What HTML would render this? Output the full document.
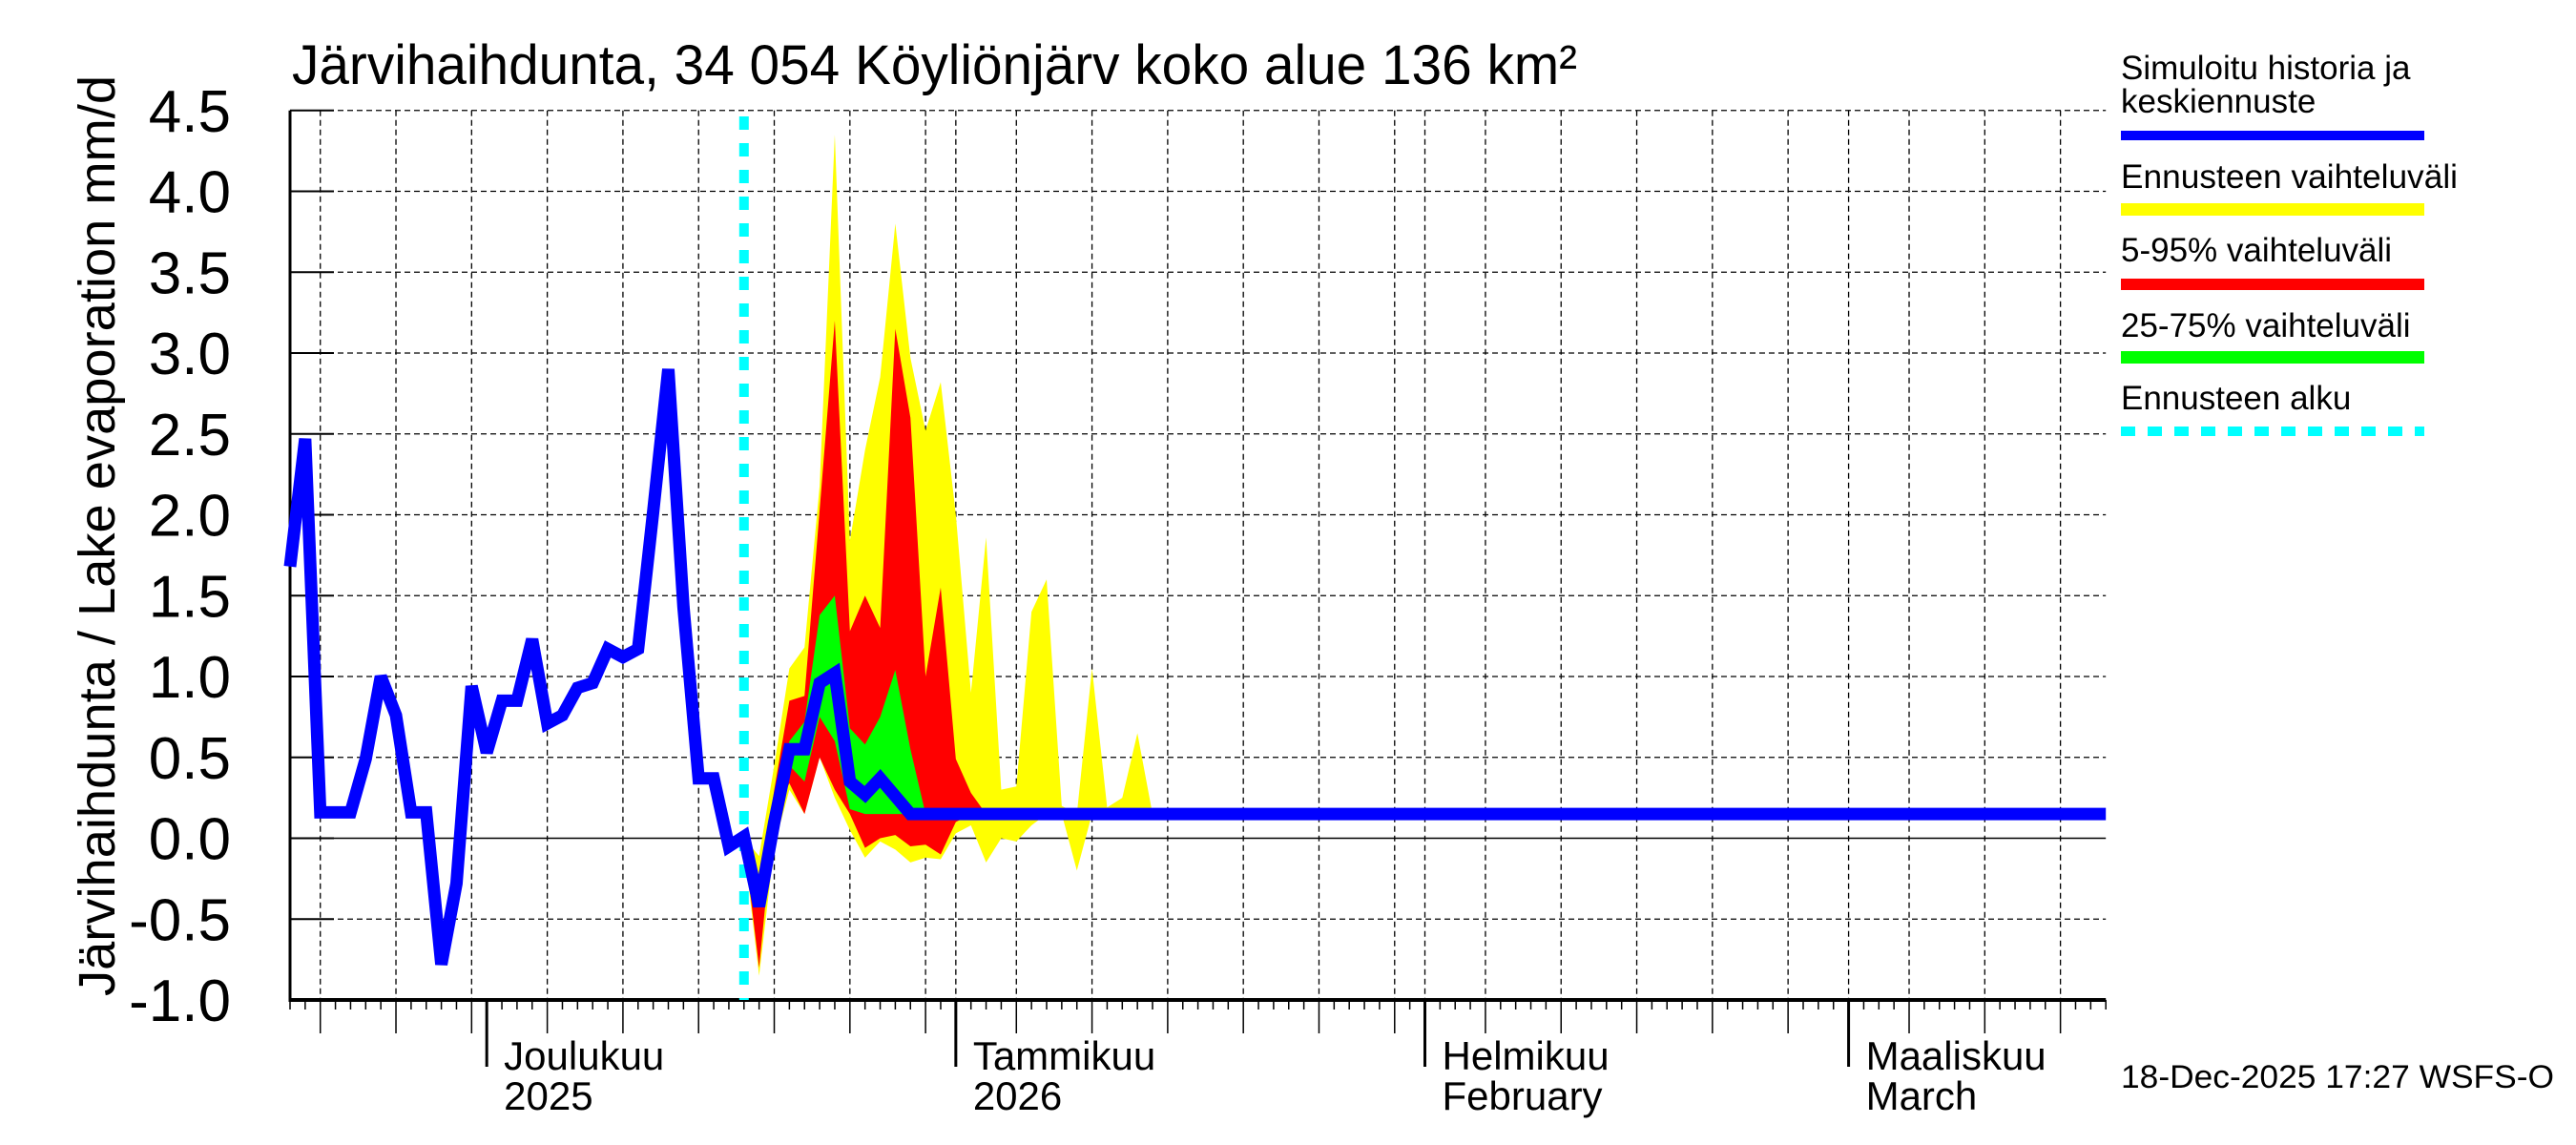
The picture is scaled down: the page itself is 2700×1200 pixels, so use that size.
<!DOCTYPE html>
<html><head><meta charset="utf-8"><style>
html,body{margin:0;padding:0;background:#fff;}
svg{display:block;font-family:"Liberation Sans",sans-serif;}
</style></head><body>
<svg id="chart" width="2700" height="1200" viewBox="0 0 2700 1200" xmlns="http://www.w3.org/2000/svg">
<text x="306" y="88" font-size="58" textLength="1347" lengthAdjust="spacingAndGlyphs">Järvihaihdunta, 34 054 Köyliönjärv koko alue 136 km²</text>
<text transform="translate(120,1044) rotate(-90)" font-size="54" textLength="965" lengthAdjust="spacingAndGlyphs">Järvihaihdunta / Lake evaporation   mm/d</text>
<g id="grid"></g>
<g id="bands"></g>
<g id="axes"></g>
<g id="legend">
<text x="2223" y="83" font-size="35">Simuloitu historia ja</text>
<text x="2223" y="118" font-size="35">keskiennuste</text>
<rect x="2223" y="137" width="318" height="10" fill="#0000ff"/>
<text x="2223" y="197" font-size="35" textLength="353" lengthAdjust="spacingAndGlyphs">Ennusteen vaihteluväli</text>
<rect x="2223" y="213" width="318" height="13" fill="#ffff00"/>
<text x="2223" y="274" font-size="35">5-95% vaihteluväli</text>
<rect x="2223" y="292" width="318" height="12" fill="#ff0000"/>
<text x="2223" y="353" font-size="35">25-75% vaihteluväli</text>
<rect x="2223" y="368" width="318" height="13" fill="#00ff00"/>
<text x="2223" y="429" font-size="35">Ennusteen alku</text>
<line x1="2223" y1="452" x2="2541" y2="452" stroke="#00ffff" stroke-width="10" stroke-dasharray="15,13"/>
</g>
<text x="2223" y="1140" font-size="34" textLength="454" lengthAdjust="spacingAndGlyphs">18-Dec-2025 17:27 WSFS-O</text>
</svg>
<script>
// Day 0 = 18 Nov 2025
const yTicks = [-1.0,-0.5,0.0,0.5,1.0,1.5,2.0,2.5,3.0,3.5,4.0,4.5];
const monthLabels = [["Joulukuu","2025"],["Tammikuu","2026"],["Helmikuu","February"],["Maaliskuu","March"]];
const monthStartDays = [13,44,75,103];
const forecastStartDay = 30;
const simulated = [1.68,2.47,0.16,0.16,0.16,0.49,1.0,0.76,0.16,0.16,-0.78,-0.28,0.94,0.53,0.85,0.85,1.23,0.71,0.76,0.93,0.96,1.17,1.12,1.17,2.02,2.90,1.43,0.37,0.37,-0.05,0.01,-0.42,0.1,0.55,0.55,0.96,1.02,0.35,0.27,0.37,0.26,0.15];
const simulatedTailValue = 0.15;
const yellowStart = 30;
const yellowUpper = [0,-0.11,0.45,1.05,1.18,2.18,4.35,1.84,2.4,2.85,3.8,2.97,2.52,2.82,2.0,0.9,1.86,0.3,0.32,1.4,1.6,0.2,0.15,1.05,0.19,0.25,0.65,0.15];
const yellowLower = [-0.05,-0.85,-0.05,0.3,0.15,0.5,0.25,0.05,-0.12,-0.02,-0.07,-0.15,-0.12,-0.13,0.03,0.08,-0.15,0.0,-0.02,0.08,0.15,0.15,-0.2,0.15,0.15,0.15,0.15,0.15];
const redStart = 30;
const redUpper = [0,-0.3,0.3,0.85,0.88,2.03,3.2,1.28,1.5,1.3,3.15,2.6,1.0,1.55,0.49,0.28,0.15];
const redLower = [-0.02,-0.8,0.15,0.34,0.15,0.5,0.3,0.15,-0.06,0.0,0.02,-0.05,-0.04,-0.1,0.1,0.15,0.15];
const greenStart = 32;
const greenUpper = [0.1,0.6,0.72,1.38,1.5,0.68,0.58,0.75,1.04,0.55,0.15];
const greenLower = [0.05,0.45,0.35,0.75,0.6,0.18,0.15,0.15,0.15,0.15,0.15];

const NS="http://www.w3.org/2000/svg";
const X0=304, DW=15.86, NDAYS=120, Y0=878.5, YU=169.5;
function xs(d){return X0+d*DW;}
function ys(v){return Y0-v*YU;}
function mk(tag,attrs,parent){const e=document.createElementNS(NS,tag);for(const k in attrs)e.setAttribute(k,attrs[k]);parent.appendChild(e);return e;}
const grid=document.getElementById('grid'), axes=document.getElementById('axes'), bands=document.getElementById('bands'), svg=document.getElementById('chart');
const xEnd=xs(NDAYS);
yTicks.forEach(v=>{
  const y=ys(v);
  const g=mk('line',{x1:X0,y1:y,x2:xEnd,y2:y,stroke:'#000','stroke-width':v===0?1.5:1.3,'stroke-dasharray':v===0?'none':'6,4'},grid);
  
  
  const t=mk('line',{x1:X0,y1:y,x2:X0+46,y2:y,stroke:'#000','stroke-width':2},axes);
  
  
  const l=mk('text',{x:242,y:y+22,'font-size':62,'text-anchor':'end'},axes);
  l.textContent=v.toFixed(1);
  
  
});
const start=new Date(2025,10,18);
for(let d=0; d<=NDAYS; d++){
  const dt=new Date(start.getTime()+d*86400000+43200000);
  const dom=dt.getDate();
  const x=xs(d);
  const isMonth=dom===1, isGrid=[5,10,15,20,25,30].includes(dom);
  if(isGrid || (isMonth && d>20)){
    const g=mk('line',{x1:x,y1:ys(4.5),x2:x,y2:ys(-1),stroke:'#000','stroke-width':1.3,'stroke-dasharray':'6,4'},grid);
    
    
  }
  const len=isMonth?70:(isGrid?35:10);
  const t=mk('line',{x1:x,y1:1048,x2:x,y2:1048+len,stroke:'#000','stroke-width':isMonth?3:1.5},axes);
  
  
}
monthStartDays.forEach((d,i)=>{
  const x=xs(d)+18;
  const a=mk('text',{x:x,y:1121,'font-size':42},axes);
  a.textContent=monthLabels[i][0];
  
  
  const b=mk('text',{x:x,y:1163,'font-size':42},axes);
  b.textContent=monthLabels[i][1];
  
  
});
const ax=mk('line',{x1:X0,y1:1048,x2:xEnd,y2:1048,stroke:'#000','stroke-width':4},axes);


const ay=mk('line',{x1:X0,y1:ys(4.5),x2:X0,y2:1050,stroke:'#000','stroke-width':3},axes);


function band(s,up,lo,color,name){
  const pts=[];
  up.forEach((v,i)=>pts.push(xs(s+i)+','+ys(v)));
  for(let i=lo.length-1;i>=0;i--)pts.push(xs(s+i)+','+ys(lo[i]));
  const p=mk('polygon',{points:pts.join(' '),fill:color},bands);
  
  
}
band(yellowStart,yellowUpper,yellowLower,'#ffff00','band-forecast-range');
band(redStart,redUpper,redLower,'#ff0000','band-5-95');
band(greenStart,greenUpper,greenLower,'#00ff00','band-25-75');
const fs=mk('line',{x1:xs(forecastStartDay),y1:122,x2:xs(forecastStartDay),y2:1048,stroke:'#00ffff','stroke-width':10,'stroke-dasharray':'14,14'},svg);


const vals=simulated.slice();
while(vals.length<=NDAYS)vals.push(simulatedTailValue);
const sl=mk('polyline',{points:vals.map((v,i)=>xs(i)+','+ys(v)).join(' '),fill:'none',stroke:'#0000ff','stroke-width':13,'stroke-linejoin':'miter','stroke-miterlimit':3},svg);


svg.appendChild(document.getElementById('legend'));
</script>
</body></html>
